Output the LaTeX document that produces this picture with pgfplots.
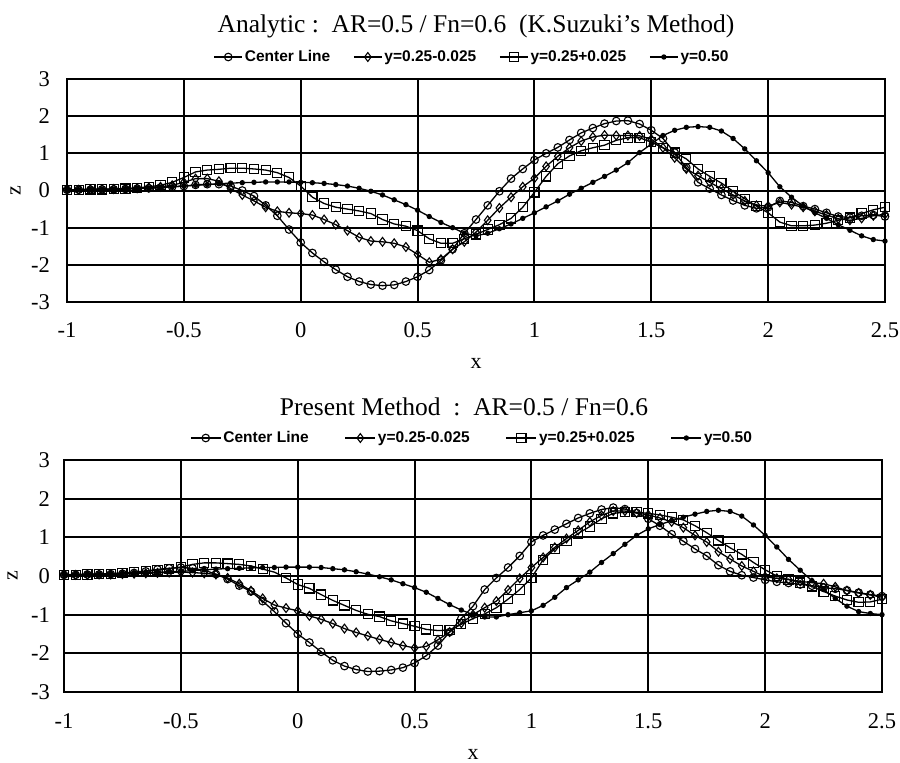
\documentclass[border=0pt]{standalone}
\usepackage{fontspec}
\setmainfont{Liberation Serif}
\newfontfamily\legfont{Liberation Sans}
\usepackage{pgfplots}
\usepackage{pgfplotstable}
\pgfplotsset{compat=1.18}

\pgfplotstableread{
x c d s p
-1.00 0.02 0.02 0.02 0.02
-0.95 0.02 0.02 0.02 0.02
-0.90 0.02 0.03 0.03 0.03
-0.85 0.03 0.03 0.03 0.03
-0.80 0.03 0.04 0.04 0.04
-0.75 0.04 0.05 0.05 0.05
-0.70 0.05 0.06 0.07 0.06
-0.65 0.06 0.08 0.10 0.07
-0.60 0.08 0.10 0.14 0.08
-0.55 0.10 0.14 0.22 0.10
-0.50 0.12 0.22 0.35 0.12
-0.45 0.15 0.32 0.50 0.14
-0.40 0.17 0.32 0.55 0.16
-0.35 0.17 0.25 0.57 0.18
-0.30 0.12 0.05 0.60 0.20
-0.25 0.00 -0.12 0.60 0.21
-0.20 -0.15 -0.28 0.58 0.22
-0.15 -0.40 -0.45 0.55 0.23
-0.10 -0.68 -0.56 0.48 0.23
-0.05 -1.05 -0.60 0.35 0.23
0.00 -1.40 -0.62 0.12 0.22
0.05 -1.68 -0.66 -0.18 0.21
0.10 -1.92 -0.78 -0.35 0.19
0.15 -2.13 -0.92 -0.45 0.16
0.20 -2.32 -1.08 -0.50 0.12
0.25 -2.45 -1.26 -0.55 0.06
0.30 -2.53 -1.36 -0.62 -0.02
0.35 -2.56 -1.38 -0.78 -0.12
0.40 -2.54 -1.42 -0.90 -0.25
0.45 -2.45 -1.52 -0.96 -0.38
0.50 -2.32 -1.72 -1.08 -0.53
0.55 -2.14 -1.93 -1.30 -0.70
0.60 -1.88 -1.85 -1.42 -0.86
0.65 -1.58 -1.58 -1.42 -1.00
0.70 -1.15 -1.38 -1.30 -1.15
0.75 -0.78 -1.12 -1.18 -1.22
0.80 -0.40 -0.80 -1.05 -1.15
0.85 -0.02 -0.47 -0.92 -1.03
0.90 0.32 -0.18 -0.75 -0.90
0.95 0.58 0.10 -0.45 -0.75
1.00 0.82 0.33 -0.05 -0.60
1.05 1.00 0.65 0.38 -0.44
1.10 1.16 0.92 0.72 -0.28
1.15 1.36 1.15 0.93 -0.10
1.20 1.55 1.33 1.07 0.06
1.25 1.68 1.44 1.15 0.22
1.30 1.80 1.49 1.22 0.38
1.35 1.87 1.48 1.35 0.55
1.40 1.88 1.48 1.42 0.75
1.45 1.79 1.47 1.42 1.02
1.50 1.62 1.38 1.30 1.25
1.55 1.40 1.15 1.15 1.48
1.60 1.02 0.88 1.02 1.62
1.65 0.62 0.58 0.85 1.70
1.70 0.22 0.40 0.58 1.72
1.75 0.05 0.22 0.38 1.70
1.80 -0.12 0.05 0.20 1.60
1.85 -0.27 -0.12 -0.02 1.40
1.90 -0.40 -0.28 -0.22 1.12
1.95 -0.48 -0.40 -0.42 0.80
2.00 -0.45 -0.42 -0.60 0.48
2.05 -0.28 -0.32 -0.85 0.10
2.10 -0.32 -0.38 -0.95 -0.18
2.15 -0.42 -0.45 -0.95 -0.42
2.20 -0.50 -0.56 -0.93 -0.60
2.25 -0.60 -0.66 -0.88 -0.75
2.30 -0.70 -0.76 -0.80 -0.92
2.35 -0.73 -0.80 -0.73 -1.07
2.40 -0.68 -0.75 -0.62 -1.22
2.45 -0.66 -0.68 -0.52 -1.32
2.50 -0.70 -0.64 -0.45 -1.36
}\tabtop

\pgfplotstableread{
x c d s p
-1.00 0.03 0.03 0.03 0.04
-0.95 0.03 0.03 0.03 0.04
-0.90 0.04 0.03 0.04 0.05
-0.85 0.04 0.04 0.05 0.05
-0.80 0.05 0.04 0.06 0.06
-0.75 0.06 0.05 0.08 0.07
-0.70 0.08 0.06 0.10 0.08
-0.65 0.12 0.07 0.13 0.09
-0.60 0.17 0.08 0.16 0.10
-0.55 0.20 0.09 0.19 0.11
-0.50 0.22 0.10 0.23 0.12
-0.45 0.20 0.09 0.30 0.14
-0.40 0.15 0.07 0.34 0.16
-0.35 0.05 0.04 0.34 0.18
-0.30 -0.08 -0.05 0.32 0.19
-0.25 -0.25 -0.20 0.30 0.20
-0.20 -0.40 -0.38 0.26 0.21
-0.15 -0.65 -0.58 0.18 0.22
-0.10 -0.92 -0.75 0.10 0.22
-0.05 -1.22 -0.83 -0.05 0.23
0.00 -1.50 -0.90 -0.22 0.23
0.05 -1.72 -1.03 -0.32 0.23
0.10 -1.96 -1.12 -0.48 0.22
0.15 -2.18 -1.23 -0.63 0.19
0.20 -2.33 -1.36 -0.76 0.16
0.25 -2.42 -1.46 -0.89 0.11
0.30 -2.47 -1.55 -0.99 0.05
0.35 -2.46 -1.64 -1.05 -0.02
0.40 -2.43 -1.72 -1.16 -0.10
0.45 -2.37 -1.80 -1.23 -0.20
0.50 -2.25 -1.86 -1.30 -0.30
0.55 -2.06 -1.82 -1.38 -0.42
0.60 -1.80 -1.65 -1.41 -0.58
0.65 -1.45 -1.45 -1.40 -0.74
0.70 -1.10 -1.22 -1.25 -0.88
0.75 -0.78 -1.00 -1.10 -1.00
0.80 -0.35 -0.82 -0.98 -1.06
0.85 -0.05 -0.65 -0.82 -1.06
0.90 0.22 -0.36 -0.60 -1.00
0.95 0.52 -0.06 -0.35 -0.95
1.00 0.88 0.22 -0.05 -0.90
1.05 1.05 0.48 0.42 -0.76
1.10 1.20 0.74 0.70 -0.55
1.15 1.35 0.97 0.90 -0.30
1.20 1.50 1.18 1.10 -0.10
1.25 1.62 1.40 1.28 0.10
1.30 1.72 1.57 1.48 0.35
1.35 1.77 1.68 1.62 0.58
1.40 1.73 1.68 1.65 0.82
1.45 1.63 1.63 1.65 1.05
1.50 1.48 1.58 1.62 1.22
1.55 1.30 1.50 1.58 1.33
1.60 1.08 1.40 1.52 1.43
1.65 0.90 1.25 1.45 1.52
1.70 0.70 1.05 1.30 1.60
1.75 0.52 0.88 1.12 1.67
1.80 0.28 0.63 0.92 1.70
1.85 0.12 0.44 0.73 1.67
1.90 0.02 0.26 0.56 1.55
1.95 -0.04 0.12 0.35 1.32
2.00 -0.10 -0.02 0.16 1.05
2.05 -0.15 -0.06 0.00 0.75
2.10 -0.18 -0.09 -0.09 0.43
2.15 -0.22 -0.14 -0.17 0.15
2.20 -0.25 -0.17 -0.27 -0.12
2.25 -0.30 -0.20 -0.40 -0.35
2.30 -0.33 -0.28 -0.52 -0.58
2.35 -0.37 -0.38 -0.62 -0.78
2.40 -0.43 -0.44 -0.68 -0.92
2.45 -0.48 -0.49 -0.67 -0.97
2.50 -0.52 -0.55 -0.60 -1.00
}\tabbot

\pgfplotsset{
  panel/.style={
    scale only axis, width=818pt,
    xmin=-1, xmax=2.5, ymin=-3, ymax=3,
    xtick={-1,-0.5,0,0.5,1,1.5,2,2.5},
    xticklabels={-1,-0.5,0,0.5,1,1.5,2,2.5},
    ytick={-3,-2,-1,0,1,2,3},
    yticklabels={-3,-2,-1,0,1,2,3},
    grid=major,
    major grid style={black, line width=2pt},
    axis line style={black, line width=2.2pt},
    major tick length=0pt,
    tick label style={font=\fontsize{22.5}{24}\selectfont},
    yticklabel style={anchor=east, inner sep=0pt},
    xticklabel style={anchor=north, inner sep=0pt},
    xlabel={x}, ylabel={z},
    label style={font=\fontsize{22}{24}\selectfont},
    xlabel style={at={(axis description cs:0.5,0)}, anchor=center},
    ylabel style={at={(axis description cs:-0.063,0.5)}, anchor=center},
    title style={at={(axis description cs:0.5,1)}, anchor=base, font=\fontsize{25.5}{28}\selectfont},
    legend columns=4,
    legend cell align=left,
    legend style={draw=none, fill=none, at={(axis description cs:0.5,1)}, anchor=center,
      inner sep=0pt, yshift=22pt,
      font={\legfont\bfseries\fontsize{15.5}{17}\selectfont}},
    clip=false,
  },
  sc/.style={black, line width=1.3pt, mark=o, mark size=3.8pt, mark options={fill=white, solid, line width=1.1pt}},
  sd/.style={black, line width=1.3pt, mark=diamond, mark size=4.4pt, mark options={fill=white, solid, line width=1.1pt}},
  ss/.style={black, line width=1.3pt, mark=square, mark size=4.6pt, mark options={fill=white, solid, line width=1.1pt}},
  sp/.style={black, line width=1.3pt, mark=*, mark size=2pt, mark options={fill=black, solid}},
}

\begin{document}
\begin{tikzpicture}
\path[use as bounding box] (0pt,0pt) rectangle (900pt,-763pt);

\begin{axis}[panel, at={(67pt,-302pt)}, anchor=south west, height=223pt,
  title={Analytic :\ \ AR=0.5 / Fn=0.6\ \ (K.Suzuki's Method)},
  title style={yshift=41pt},
  xticklabel style={yshift=-20pt},
  yticklabel style={xshift=-17pt},
  xlabel style={yshift=-61pt},
  legend style={xshift=-4pt, /tikz/every even column/.append style={column sep=21pt}},
  legend image code/.code={\draw[mark repeat=2,mark phase=2] plot coordinates {(0pt,0pt) (14pt,0pt) (28pt,0pt)};},
]
\addplot[sc] table[x=x,y=c] {\tabtop};
\addplot[sd] table[x=x,y=d] {\tabtop};
\addplot[ss] table[x=x,y=s] {\tabtop};
\addplot[sp] table[x=x,y=p] {\tabtop};
\legend{Center Line, y=0.25-0.025, y=0.25+0.025, y=0.50}
\end{axis}

\begin{axis}[panel, at={(64pt,-692pt)}, anchor=south west, height=232pt,
  title={Present Method\ \ :\ \ AR=0.5 / Fn=0.6},
  title style={yshift=39pt, xshift=-9pt},
  xticklabel style={yshift=-21pt},
  yticklabel style={xshift=-14pt},
  xlabel style={yshift=-62pt},
  legend style={xshift=-1pt, /tikz/every even column/.append style={column sep=34pt}},
  legend image code/.code={\draw[mark repeat=2,mark phase=2] plot coordinates {(0pt,0pt) (15pt,0pt) (30pt,0pt)};},
]
\addplot[sc] table[x=x,y=c] {\tabbot};
\addplot[sd] table[x=x,y=d] {\tabbot};
\addplot[ss] table[x=x,y=s] {\tabbot};
\addplot[sp] table[x=x,y=p] {\tabbot};
\legend{Center Line, y=0.25-0.025, y=0.25+0.025, y=0.50}
\end{axis}
\end{tikzpicture}
\end{document}
